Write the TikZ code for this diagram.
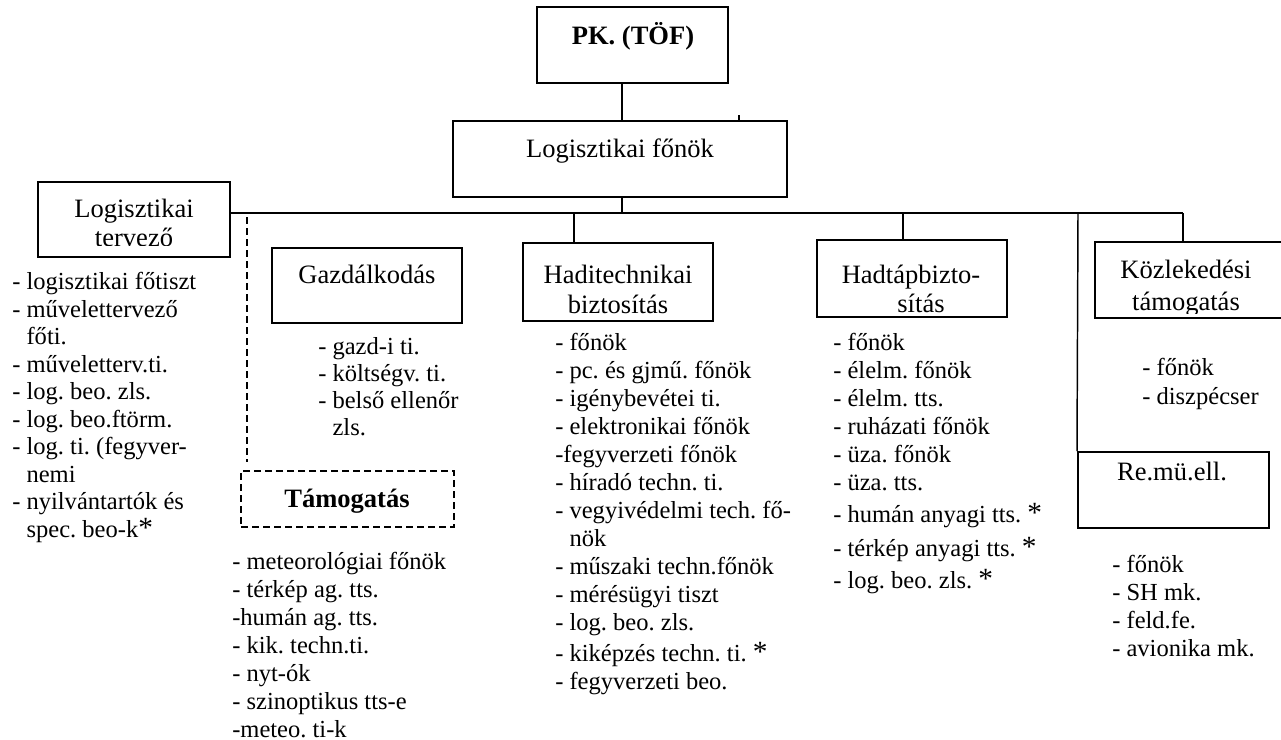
\documentclass[tikz,border=0pt]{standalone}
\usepackage{fontspec}
\setmainfont{Liberation Serif}
\usetikzlibrary{fit}

% larger asterisk used as footnote mark in the lists
\newcommand\fnmark{{\fontsize{22}{22}\selectfont *}}
\newcommand\cont{\hphantom{- }}

\begin{document}
\frenchspacing
\begin{tikzpicture}[x=0.75pt,y=-0.75pt,
  box/.style={draw, line width=1.5pt, inner sep=0pt},
  dbox/.style={draw, line width=1.2pt, dash pattern=on 5.25pt off 3pt, inner sep=0pt},
  link/.style={line width=1.1pt},
  dlink/.style={line width=1.1pt, dash pattern=on 5.25pt off 3pt},
  title/.style={font=\fontsize{19.9}{22.5}\selectfont, inner sep=0pt, anchor=base},
  btitle/.style={title, font=\fontsize{19.9}{22.5}\selectfont\bfseries},
  % lists are placed by the baseline of their last line
  items/.style={inner sep=0pt, anchor=base west, align=left},
]
\useasboundingbox (0,0) rectangle (1281,739);

% ---- boxes ----
\node[box, fit={(537,7) (728,83)}] (pk) {};
\node[box, fit={(453,121) (787,197)}] (fonok) {};
\node[box, fit={(38,182) (230,257)}] (terv) {};
\node[box, fit={(272,248) (462,323)}] (gazd) {};
\node[box, fit={(523,243) (713,321)}] (hadi) {};
\node[box, fit={(817,240) (1007,317)}] (hadtap) {};
\node[box, fit={(1095,242) (1295,318)}] (kozl) {};
\node[box, fit={(1078,452) (1269,528)}] (remu) {};
\node[dbox, fit={(241,471) (454,527)}] (tamog) {};

% ---- box titles ----
\node[btitle] (pkT) at (633,44) {PK. (TÖF)};
\node[title] (fonokT) at (620,157) {Logisztikai főnök};
\begin{scope}
  \clip (38,182) rectangle (230,245);
  \node[title] (tervT1) at (134,217) {Logisztikai};
  \node[title] (tervT2) at (134,246) {tervező};
\end{scope}
\node[title] (gazdT) at (367,283) {Gazdálkodás};
\node[title] (hadiT1) at (618,283) {Haditechnikai};
\node[title] (hadiT2) at (618,313) {biztosítás};
\node[title] (hadtapT1) at (911,283) {Hadtápbizto-};
\node[title] (hadtapT2) at (921,312) {sítás};
\begin{scope}
  \clip (1095,242) rectangle (1295,313);
  \node[title] (kozlT1) at (1186,278) {Közlekedési};
  \node[title] (kozlT2) at (1186,310) {támogatás};
\end{scope}
\node[title] (remuT) at (1172,480) {Re.mü.ell.};
\node[btitle] (tamogT) at (347,507) {Támogatás};

% ---- staff lists ----
\node[items, font=\fontsize{18.4}{20.6}\selectfont] (tervL) at (12,537) {%
- logisztikai főtiszt\\
- művelettervező\\
\cont főti.\\
- műveletterv.ti.\\
- log. beo. zls.\\
- log. beo.ftörm.\\
- log. ti. (fegyver-\\
\cont nemi\\
- nyilvántartók és\\
\cont spec. beo-k\fnmark};

\node[items, font=\fontsize{18.4}{20.25}\selectfont] (gazdL) at (318,435) {%
- gazd-i ti.\\
- költségv. ti.\\
- belső ellenőr\\
\cont zls.};

\node[items, font=\fontsize{18.4}{21}\selectfont] (hadiL) at (555,689) {%
- főnök\\
- pc. és gjmű. főnök\\
- igénybevétei ti.\\
- elektronikai főnök\\
-fegyverzeti főnök\\
- híradó techn. ti.\\
- vegyivédelmi tech. fő-\\
\cont nök\\
- műszaki techn.főnök\\
- mérésügyi tiszt\\
- log. beo. zls.\\[2.25pt]
- kiképzés techn. ti. \fnmark\\
- fegyverzeti beo.};

\node[items, font=\fontsize{18.4}{21}\selectfont] (hadtapL) at (833,588) {%
- főnök\\
- élelm. főnök\\
- élelm. tts.\\
- ruházati főnök\\
- üza. főnök\\
- üza. tts.\\[3pt]
- humán anyagi tts. \fnmark\\[4.5pt]
- térkép anyagi tts. \fnmark\\[3pt]
- log. beo. zls. \fnmark};

\node[items, font=\fontsize{18.4}{21.5}\selectfont] (kozlL) at (1142,404) {%
- főnök\\
- diszpécser};

\node[items, font=\fontsize{18.4}{21}\selectfont] (remuL) at (1112,656) {%
- főnök\\
- SH mk.\\
- feld.fe.\\
- avionika mk.};

\node[items, font=\fontsize{18.4}{20.9}\selectfont] (tamogL) at (232,737) {%
- meteorológiai főnök\\
- térkép ag. tts.\\
-humán ag. tts.\\
- kik. techn.ti.\\
- nyt-ók\\
- szinoptikus tts-e\\
-meteo. ti-k};

% ---- connector positions ----
\coordinate (busy) at (0,213);
\coordinate (busend) at (1183,213);
\coordinate (xa) at (622,0);
\coordinate (xhadi) at (574,0);
\coordinate (xhadtap) at (903,0);
\coordinate (xremu) at (1078,0);
\coordinate (xdash) at (247,0);
\coordinate (tick) at (739,115);

% ---- connectors ----
\draw[link] (pk.south -| xa) -- (fonok.north -| xa);
\draw[link] (fonok.south -| xa) -- (busy -| xa);
\draw[link] (terv.east |- busy) -- (busend);
\draw[link] (busy -| xhadi) -- (hadi.north -| xhadi);
\draw[link] (busy -| xhadtap) -- (hadtap.north -| xhadtap);
\draw[link] (busy -| xremu) -- (remu.north west);
\draw[link] (busend) -- (kozl.north -| busend);
\draw[dlink] ([yshift=-3pt]busy -| xdash) -- ([yshift=6pt]tamog.north -| xdash);
\draw[link] (fonok.north -| tick) -- (tick);
\end{tikzpicture}
\end{document}
